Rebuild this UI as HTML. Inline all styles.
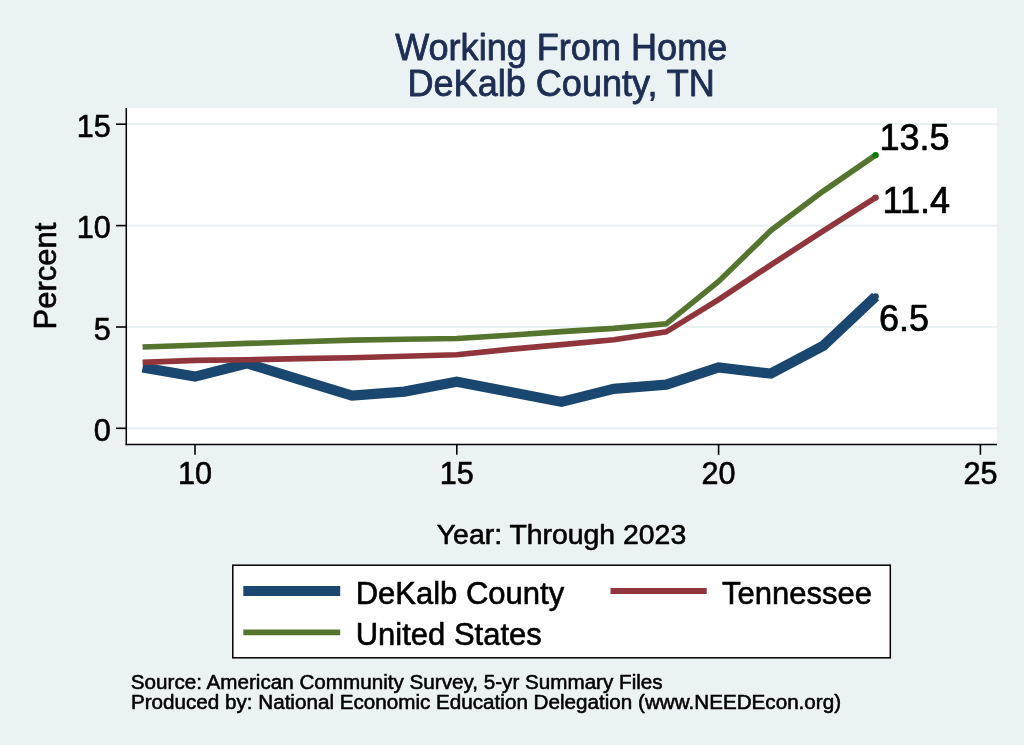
<!DOCTYPE html>
<html lang="en"><head><meta charset="utf-8"><title>Working From Home - DeKalb County, TN</title>
<style>
html,body{margin:0;padding:0;background:#eaf2f3;}
body{width:1024px;height:745px;overflow:hidden;}
svg{display:block;will-change:transform;}
text{font-family:"Liberation Sans", Arial, Helvetica, sans-serif;fill:#000;stroke:#000;stroke-width:0.6px;stroke-linejoin:round;}
.t{fill:#1e2d53;stroke:#1e2d53;stroke-width:0.8px;}
.big{stroke-width:0.7px;}
.n{stroke-width:0.55px;}
</style></head><body>
<svg width="1024" height="745" viewBox="0 0 1024 745">
<rect x="0" y="0" width="1024" height="745" fill="#eaf2f3"/>
<rect x="126.3" y="108.0" width="870.7" height="336.4" fill="#ffffff"/>

<line x1="126.3" x2="997.0" y1="428.3" y2="428.3" stroke="#e9f1f2" stroke-width="2.2"/>
<line x1="126.3" x2="997.0" y1="327.0" y2="327.0" stroke="#e9f1f2" stroke-width="2.2"/>
<line x1="126.3" x2="997.0" y1="225.6" y2="225.6" stroke="#e9f1f2" stroke-width="2.2"/>
<line x1="126.3" x2="997.0" y1="124.2" y2="124.2" stroke="#e9f1f2" stroke-width="2.2"/>
<polyline points="142.6,367.5 195.0,376.6 247.3,363.4 299.7,379.7 352.0,395.7 404.4,391.6 456.8,381.7 509.1,391.8 561.5,401.9 613.8,388.8 666.2,384.7 718.6,367.5 770.9,373.6 823.3,345.8 875.6,296.5" fill="none" stroke="#1a476f" stroke-width="10.2" stroke-linejoin="miter" stroke-linecap="butt"/>
<polyline points="142.6,362.4 195.0,360.4 247.3,359.8 299.7,358.6 352.0,357.8 404.4,356.3 456.8,354.7 509.1,349.4 561.5,344.6 613.8,339.7 666.2,331.8 718.6,299.6 770.9,264.9 823.3,230.9 875.6,197.6" fill="none" stroke="#90353b" stroke-width="5.6" stroke-linejoin="miter" stroke-linecap="butt"/>
<polyline points="142.6,347.0 195.0,345.2 247.3,343.4 299.7,341.7 352.0,340.1 404.4,339.3 456.8,338.5 509.1,335.3 561.5,331.6 613.8,328.4 666.2,323.9 718.6,281.5 770.9,230.5 823.3,191.1 875.6,155.1" fill="none" stroke="#55752f" stroke-width="5.6" stroke-linejoin="miter" stroke-linecap="butt"/>
<circle cx="875.6" cy="296.5" r="3.2" fill="#1a476f"/>
<circle cx="875.6" cy="197.6" r="3.2" fill="#90353b"/>
<circle cx="875.6" cy="155.1" r="3.2" fill="#008000"/>
<text x="879.4" y="149.5" font-size="36" class="big">13.5</text>
<text x="882.6" y="212.7" font-size="36" class="big">11.4</text>
<text x="879.1" y="331.0" font-size="36" class="big">6.5</text>
<line x1="126.3" x2="126.3" y1="108.0" y2="445.15" stroke="#000" stroke-width="1.5"/>
<line x1="125.55" x2="997.0" y1="444.4" y2="444.4" stroke="#000" stroke-width="1.5"/>
<line x1="116" x2="126.3" y1="428.3" y2="428.3" stroke="#000" stroke-width="1.6"/>
<text x="110.8" y="441.1" font-size="30.6" text-anchor="end">0</text>
<line x1="116" x2="126.3" y1="327.0" y2="327.0" stroke="#000" stroke-width="1.6"/>
<text x="110.8" y="339.8" font-size="30.6" text-anchor="end">5</text>
<line x1="116" x2="126.3" y1="225.6" y2="225.6" stroke="#000" stroke-width="1.6"/>
<text x="110.8" y="238.4" font-size="30.6" text-anchor="end">10</text>
<line x1="116" x2="126.3" y1="124.2" y2="124.2" stroke="#000" stroke-width="1.6"/>
<text x="110.8" y="137.1" font-size="30.6" text-anchor="end">15</text>
<line x1="195.0" x2="195.0" y1="444.4" y2="454.8" stroke="#000" stroke-width="1.6"/>
<text x="195.0" y="484.1" font-size="30.6" text-anchor="middle">10</text>
<line x1="456.8" x2="456.8" y1="444.4" y2="454.8" stroke="#000" stroke-width="1.6"/>
<text x="456.8" y="484.1" font-size="30.6" text-anchor="middle">15</text>
<line x1="718.6" x2="718.6" y1="444.4" y2="454.8" stroke="#000" stroke-width="1.6"/>
<text x="718.6" y="484.1" font-size="30.6" text-anchor="middle">20</text>
<line x1="980.4" x2="980.4" y1="444.4" y2="454.8" stroke="#000" stroke-width="1.6"/>
<text x="980.4" y="484.1" font-size="30.6" text-anchor="middle">25</text>
<text x="561.2" y="59.5" font-size="36.1" text-anchor="middle" class="t">Working From Home</text>
<text x="561.2" y="95.6" font-size="36.1" text-anchor="middle" class="t">DeKalb County, TN</text>
<text transform="translate(56.3 276.0) rotate(-90)" font-size="31" text-anchor="middle">Percent</text>
<text x="561.5" y="543.7" font-size="28.4" text-anchor="middle">Year: Through 2023</text>
<rect x="232.8" y="565.2" width="657.5" height="92.6" fill="#fff" stroke="#000" stroke-width="1.5"/>
<line x1="243.3" x2="340.2" y1="591" y2="591" stroke="#1a476f" stroke-width="10.2"/>
<line x1="243.3" x2="340.2" y1="632.3" y2="632.3" stroke="#55752f" stroke-width="5.8"/>
<line x1="610.5" x2="706.7" y1="591" y2="591" stroke="#90353b" stroke-width="5.8"/>
<text x="355.7" y="603.7" font-size="31">DeKalb County</text>
<text x="355.7" y="645" font-size="31">United States</text>
<text x="722" y="603.7" font-size="31">Tennessee</text>
<text x="130.8" y="688.7" font-size="20.65" class="n">Source: American Community Survey, 5-yr Summary Files</text>
<text x="130.9" y="709.1" font-size="20.65" class="n">Produced by: National Economic Education Delegation (www.NEEDEcon.org)</text>
</svg></body></html>
